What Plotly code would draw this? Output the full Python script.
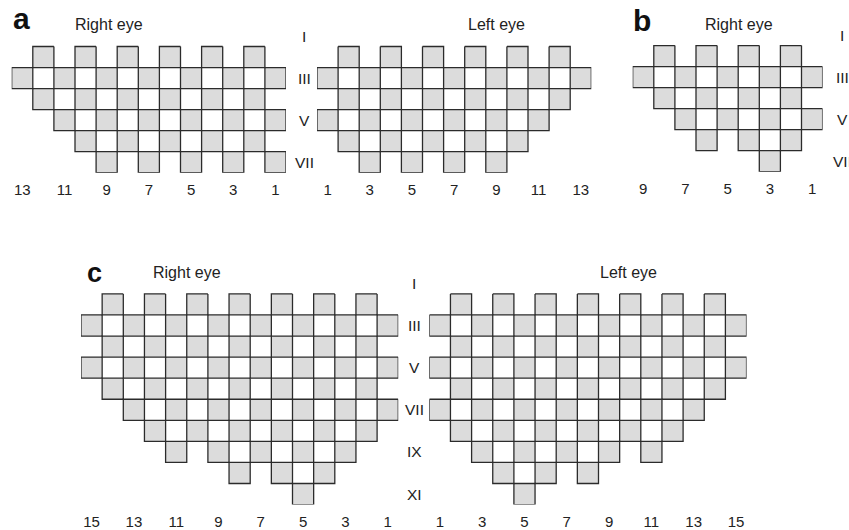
import plotly.graph_objects as go

# Facet maps: for every eye, the rows (Roman numeral index) and the
# columns of the shaded facets in that row.
A_RIGHT_ROWS = [2, 3, 4, 5, 6, 7]
A_RIGHT_COLS = [
    [2, 4, 6, 8, 10, 12],
    [1, 3, 5, 7, 9, 11, 13],
    [2, 4, 6, 8, 10, 12],
    [1, 3, 5, 7, 9, 11],
    [2, 4, 6, 8, 10],
    [1, 3, 5, 7, 9],
]
A_LEFT_ROWS = [2, 3, 4, 5, 6, 7]
A_LEFT_COLS = [
    [2, 4, 6, 8, 10, 12],
    [1, 3, 5, 7, 9, 11, 13],
    [2, 4, 6, 8, 10, 12],
    [1, 3, 5, 7, 9, 11],
    [2, 4, 6, 8, 10],
    [3, 5, 7, 9],
]
B_RIGHT_ROWS = [2, 3, 4, 5, 6, 7]
B_RIGHT_COLS = [
    [2, 4, 6, 8],
    [1, 3, 5, 7, 9],
    [2, 4, 6, 8],
    [1, 3, 5, 7],
    [2, 4, 6],
    [3],
]
C_RIGHT_ROWS = [2, 3, 4, 5, 6, 7, 8, 9, 10, 11]
C_RIGHT_COLS = [
    [2, 4, 6, 8, 10, 12, 14],
    [1, 3, 5, 7, 9, 11, 13, 15],
    [2, 4, 6, 8, 10, 12, 14],
    [1, 3, 5, 7, 9, 11, 13, 15],
    [2, 4, 6, 8, 10, 12, 14],
    [1, 3, 5, 7, 9, 11, 13],
    [2, 4, 6, 8, 10, 12],
    [3, 5, 7, 9, 11],
    [4, 6, 8],
    [5],
]
C_LEFT_ROWS = [2, 3, 4, 5, 6, 7, 8, 9, 10, 11]
C_LEFT_COLS = [
    [2, 4, 6, 8, 10, 12, 14],
    [1, 3, 5, 7, 9, 11, 13, 15],
    [2, 4, 6, 8, 10, 12, 14],
    [1, 3, 5, 7, 9, 11, 13, 15],
    [2, 4, 6, 8, 10, 12, 14],
    [1, 3, 5, 7, 9, 11, 13],
    [2, 4, 6, 8, 10, 12],
    [3, 5, 7, 9, 11],
    [4, 6, 8],
    [5],
]

# Axis labels
COL_TICKS_13 = [1, 3, 5, 7, 9, 11, 13]
COL_TICKS_9 = [1, 3, 5, 7, 9]
COL_TICKS_15 = [1, 3, 5, 7, 9, 11, 13, 15]
ROW_TICKS_7 = [1, 3, 5, 7]
ROW_TICKS_11 = [1, 3, 5, 7, 9, 11]
ROMAN = {1: "I", 3: "III", 5: "V", 7: "VII", 9: "IX", 11: "XI"}

W, H = 849, 530
FONT = "Arial, Liberation Sans, Helvetica, sans-serif"
INK = "#222222"
FACET_FILL = "#dcdcdc"
FACET_LINE = "#2b2b2b"


def fx(px):
    return px / W


def fy(py):
    return 1 - py / H


# name, rows, cols, n columns, n rows, mirrored, left px, top px, cell px, ticks
PANELS = [
    ("aR", A_RIGHT_ROWS, A_RIGHT_COLS, 13, 7, True, 11.7, 25.6, 21.1, COL_TICKS_13),
    ("aL", A_LEFT_ROWS, A_LEFT_COLS, 13, 7, False, 317.0, 25.6, 21.1, COL_TICKS_13),
    ("bR", B_RIGHT_ROWS, B_RIGHT_COLS, 9, 7, True, 632.7, 24.6, 21.1, COL_TICKS_9),
    ("cR", C_RIGHT_ROWS, C_RIGHT_COLS, 15, 11, True, 81.0, 273.85, 21.15, COL_TICKS_15),
    ("cL", C_LEFT_ROWS, C_LEFT_COLS, 15, 11, False, 429.3, 273.85, 21.15, COL_TICKS_15),
]

fig = go.Figure()
layout = {}

for k, (name, rows, cols, ncol, nrow, mirrored, left, top, cell, ticks) in enumerate(PANELS, start=1):
    xs, ys = [], []
    for r, cs in zip(rows, cols):
        for c in cs:
            xs += [c - 0.5, c + 0.5, c + 0.5, c - 0.5, c - 0.5, None]
            ys += [r - 0.5, r - 0.5, r + 0.5, r + 0.5, r - 0.5, None]
    sfx = "" if k == 1 else str(k)
    fig.add_trace(go.Scatter(
        x=xs, y=ys, mode="lines", fill="toself",
        fillcolor=FACET_FILL,
        line=dict(color=FACET_LINE, width=1.3),
        xaxis="x" + sfx, yaxis="y" + sfx,
        hoverinfo="skip", showlegend=False,
    ))
    xr = [ncol + 0.5, 0.5] if mirrored else [0.5, ncol + 0.5]
    layout["xaxis" + sfx] = dict(
        domain=[fx(left), fx(left + ncol * cell)],
        range=xr, anchor="y" + sfx,
        showgrid=False, zeroline=False, showline=False, ticks="",
        tickmode="array", tickvals=ticks, ticktext=[str(t) for t in ticks],
        tickfont=dict(family=FONT, size=15, color=INK),
        ticklabelstandoff=6, fixedrange=True,
    )
    layout["yaxis" + sfx] = dict(
        domain=[fy(top + nrow * cell), fy(top)],
        range=[nrow + 0.5, 0.5], anchor="x" + sfx,
        showgrid=False, zeroline=False, showline=False,
        showticklabels=False, ticks="", fixedrange=True,
    )

annotations = []


def text(x, y, s, size=16, bold=False, xanchor="center"):
    annotations.append(dict(
        x=fx(x), y=fy(y), xref="paper", yref="paper", text=s,
        showarrow=False, xanchor=xanchor, yanchor="middle",
        font=dict(family=FONT, size=size, color="#111111" if bold else INK,
                  weight="bold" if bold else "normal"),
    ))


# Panel letters and eye titles
text(21, 19, "a", size=30, bold=True)
text(642, 21, "b", size=30, bold=True)
text(94, 274, "c", size=27, bold=True)
text(108.5, 25, "Right eye")
text(496.5, 25, "Left eye")
text(738.5, 25, "Right eye")
text(186.5, 274, "Right eye")
text(628.5, 274, "Left eye")

# Row numerals between/next to the arrays, aligned with the axis rows
for ref, xpx, rticks in [("y", 304, ROW_TICKS_7), ("y3", 842, ROW_TICKS_7), ("y4", 414, ROW_TICKS_11)]:
    for r in rticks:
        annotations.append(dict(
            x=fx(xpx), y=r, xref="paper", yref=ref, text=ROMAN[r],
            showarrow=False, xanchor="center", yanchor="middle",
            font=dict(family=FONT, size=15.5, color=INK),
        ))

fig.update_layout(
    width=W, height=H, autosize=False,
    margin=dict(l=0, r=0, t=0, b=0, pad=0),
    paper_bgcolor="white", plot_bgcolor="rgba(0,0,0,0)",
    showlegend=False, annotations=annotations, **layout,
)

fig.write_html("out.html", config={"displayModeBar": False})
